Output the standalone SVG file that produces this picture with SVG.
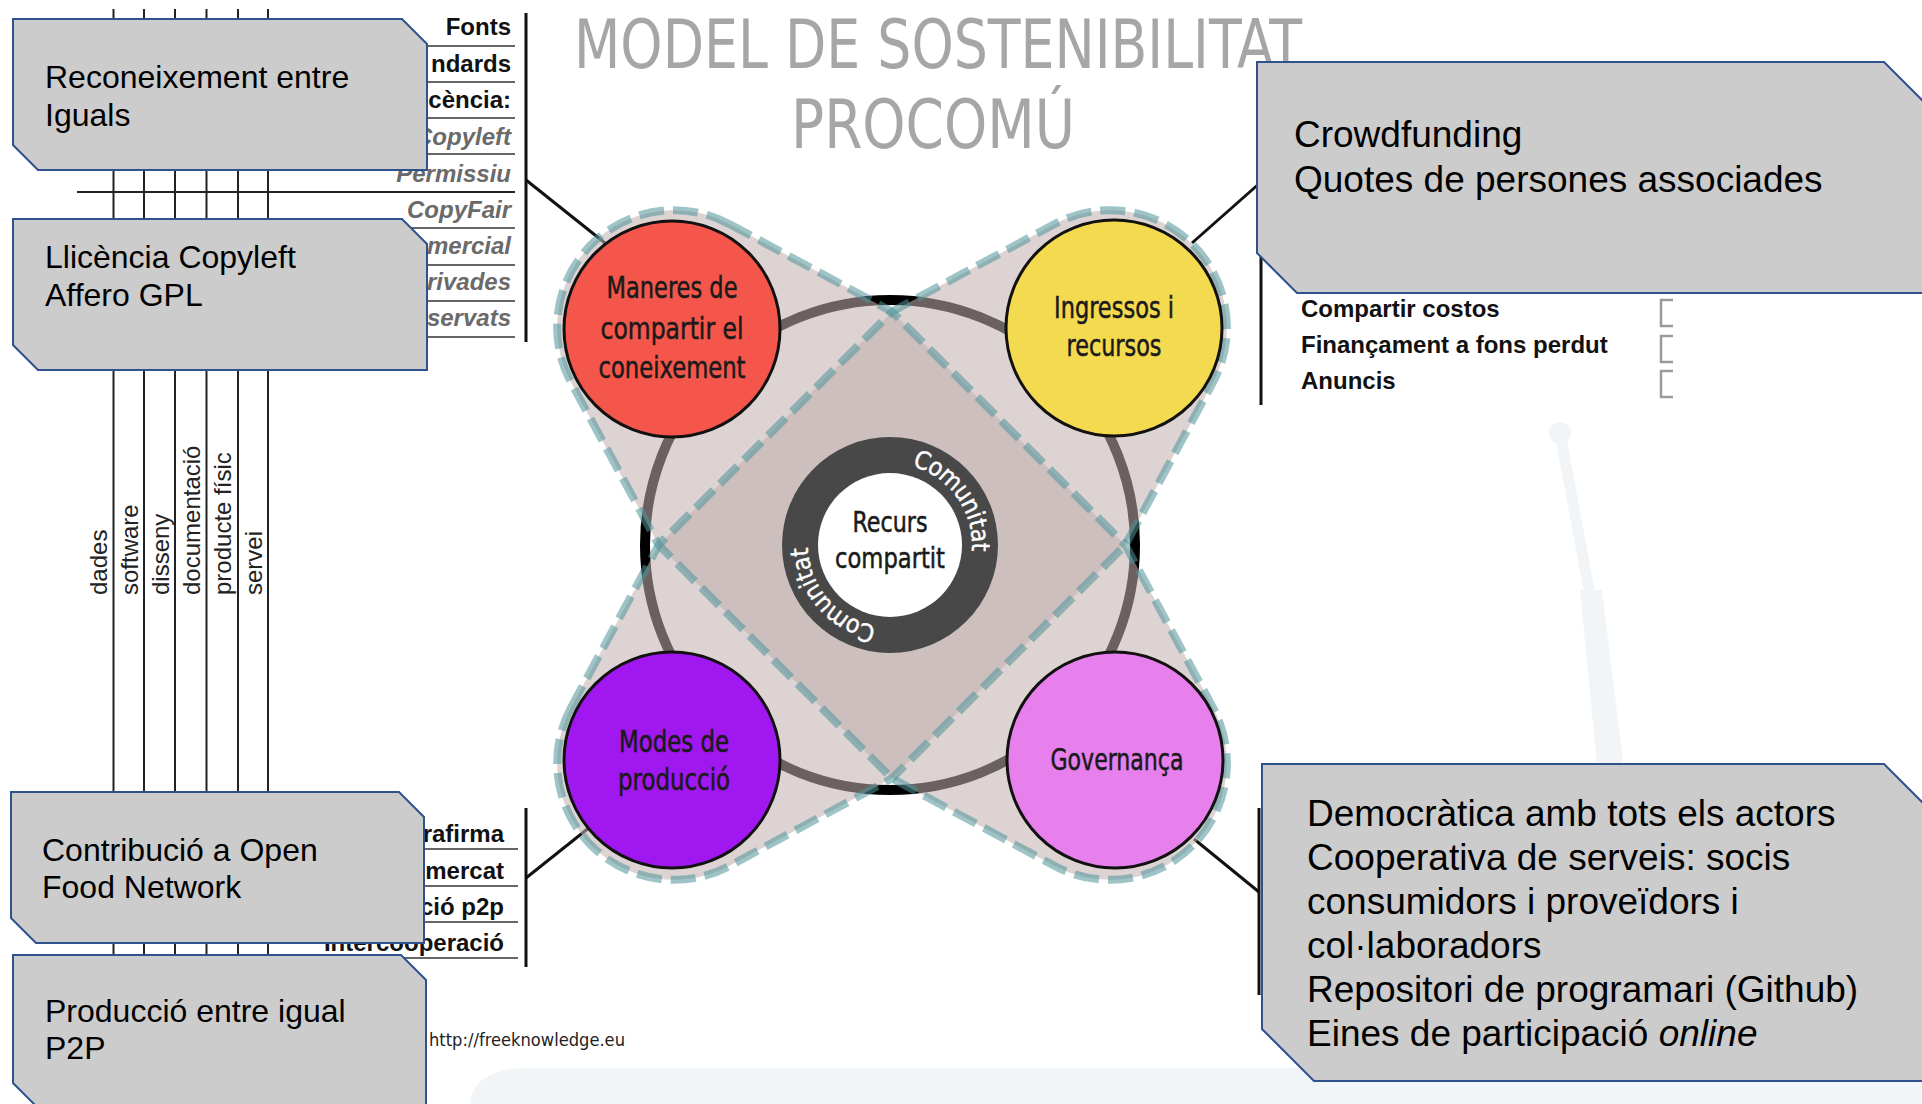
<svg xmlns="http://www.w3.org/2000/svg" width="1922" height="1104" viewBox="0 0 1922 1104">
<style>
.box{fill:#cccccc;stroke:#2f528f;stroke-width:2}
.bt{font-family:"Liberation Sans",Arial,sans-serif;font-size:32px;fill:#000}
.rt{font-family:"Liberation Sans",Arial,sans-serif;font-size:37px;fill:#000}
.lb{font-family:"Liberation Sans",Arial,sans-serif;font-size:24px;font-weight:bold;fill:#111}
.li{font-family:"Liberation Sans",Arial,sans-serif;font-size:24px;font-weight:bold;font-style:italic;fill:#6a6a6a}
.vt{font-family:"Liberation Sans",Arial,sans-serif;font-size:24px;fill:#222}
.ln{stroke:#222;stroke-width:2;fill:none}
.thin{stroke:#333;stroke-width:1.6;fill:none}
.bar{stroke:#111;stroke-width:3;fill:none}
.cn{stroke:#111;stroke-width:3;fill:none}
.ub{font-family:"DejaVu Sans Condensed","DejaVu Sans",sans-serif;font-stretch:condensed}
.cl{font-size:30px;fill:#1a1a1a;stroke:#1a1a1a;stroke-width:0.5;text-anchor:middle}
.leaf{fill:#c2b0b0;fill-opacity:0.553}
.dash{fill:none;stroke:#4f9499;stroke-opacity:0.55;stroke-width:8;stroke-dasharray:25 9}
.node{stroke:#111;stroke-width:3}
.chk{fill:none;stroke:#9a9a9a;stroke-width:2.5}
.wm{fill:#f1f5f7}
.com{font-size:25px;fill:#ffffff;stroke:#ffffff;stroke-width:0.4;text-anchor:middle}
</style>
<defs>
<path id="leafShape" d="M-341.6,-112.1 A117,117 0 0 0 -341.6,112.1 L-165,165 L165,165 L341.6,112.1 A117,117 0 0 0 341.6,-112.1 L165,-165 L-165,-165 Z"/>
</defs>

<rect width="1922" height="1104" fill="#ffffff"/>

<g id="watermark">
<path class="wm" d="M470,1104 Q472,1072 520,1068 H1922 V1104 Z"/>
<circle class="wm" cx="1560" cy="433" r="11"/>
<line x1="1560" y1="433" x2="1590" y2="595" stroke="#f1f5f7" stroke-width="11" stroke-linecap="round"/>
<polygon class="wm" points="1580,590 1602,590 1665,1104 1630,1104"/>
</g>

<g id="title" class="ub" fill="#a6a6a6" text-anchor="middle">
<text x="938" y="68" font-size="68" textLength="728" lengthAdjust="spacingAndGlyphs">MODEL DE SOSTENIBILITAT</text>
<text x="933" y="148" font-size="68" textLength="284" lengthAdjust="spacingAndGlyphs">PROCOMÚ</text>
</g>

<g id="knowledge-grid">
<line class="ln" x1="113.5" y1="9" x2="113.5" y2="1000"/>
<line class="ln" x1="144" y1="9" x2="144" y2="1000"/>
<line class="ln" x1="175" y1="9" x2="175" y2="1000"/>
<line class="ln" x1="206.5" y1="9" x2="206.5" y2="1000"/>
<line class="ln" x1="238" y1="9" x2="238" y2="1000"/>
<line class="ln" x1="268" y1="9" x2="268" y2="1000"/>
<line class="ln" x1="77" y1="192" x2="515" y2="192"/>
<text class="vt" transform="translate(107,595) rotate(-90)">dades</text>
<text class="vt" transform="translate(137.5,595) rotate(-90)">software</text>
<text class="vt" transform="translate(168.5,595) rotate(-90)">disseny</text>
<text class="vt" transform="translate(200,595) rotate(-90)">documentació</text>
<text class="vt" transform="translate(231,595) rotate(-90)">producte físic</text>
<text class="vt" transform="translate(261.5,595) rotate(-90)">servei</text>
</g>

<g id="licence-list">
<line class="thin" x1="400" y1="46" x2="515" y2="46"/>
<line class="thin" x1="400" y1="82" x2="515" y2="82"/>
<line class="thin" x1="400" y1="118" x2="515" y2="118"/>
<line class="thin" x1="400" y1="154" x2="515" y2="154"/>
<line class="thin" x1="400" y1="228" x2="515" y2="228"/>
<line class="thin" x1="400" y1="265" x2="515" y2="265"/>
<line class="thin" x1="400" y1="301" x2="515" y2="301"/>
<line class="thin" x1="400" y1="337" x2="515" y2="337"/>
<line class="bar" x1="526" y1="13" x2="526" y2="342"/>
<g text-anchor="end">
<text class="lb" x="511" y="35">Fonts</text>
<text class="lb" x="511" y="72">ndards</text>
<text class="lb" x="511" y="108">cència:</text>
<text class="li" x="511" y="145">Copyleft</text>
<text class="li" x="511" y="182">Permissiu</text>
<text class="li" x="511" y="218">CopyFair</text>
<text class="li" x="511" y="254">mercial</text>
<text class="li" x="511" y="290">rivades</text>
<text class="li" x="511" y="326">servats</text>
</g>
</g>

<g id="production-list">
<line class="thin" x1="400" y1="849" x2="518" y2="849"/>
<line class="thin" x1="400" y1="886" x2="518" y2="886"/>
<line class="thin" x1="400" y1="922" x2="518" y2="922"/>
<line class="thin" x1="300" y1="958" x2="518" y2="958"/>
<line class="bar" x1="526" y1="808" x2="526" y2="967"/>
<g text-anchor="end">
<text class="lb" x="504" y="842">rafirma</text>
<text class="lb" x="504" y="879">mercat</text>
<text class="lb" x="504" y="915">ció p2p</text>
<text class="lb" x="504" y="951">Intercooperació</text>
</g>
</g>

<g id="income-list">
<line class="bar" x1="1261" y1="160" x2="1261" y2="405"/>
<text class="lb" x="1301" y="317">Compartir costos</text>
<text class="lb" x="1301" y="353">Finançament a fons perdut</text>
<text class="lb" x="1301" y="389">Anuncis</text>
<path class="chk" d="M1673,300 H1661 V326 H1673"/>
<path class="chk" d="M1673,336 H1661 V362 H1673"/>
<path class="chk" d="M1673,371 H1661 V397 H1673"/>
</g>

<g id="governance-list">
<line class="bar" x1="1259" y1="808" x2="1259" y2="995"/>
</g>

<g id="connectors">
<line class="cn" x1="526" y1="180" x2="605" y2="243"/>
<line class="cn" x1="1261" y1="182" x2="1192" y2="243"/>
<line class="cn" x1="526" y1="878" x2="590" y2="827"/>
<line class="cn" x1="1259" y1="892" x2="1194" y2="839"/>
</g>

<g id="model">
<circle cx="890" cy="545" r="245" fill="none" stroke="#000" stroke-width="10"/>
<use href="#leafShape" class="leaf" transform="translate(892,545) rotate(45)"/>
<use href="#leafShape" class="leaf" transform="translate(892,545) rotate(-45)"/>
<use href="#leafShape" class="dash" transform="translate(892,545) rotate(45)"/>
<use href="#leafShape" class="dash" transform="translate(892,545) rotate(-45)"/>
</g>

<g id="node-coneixement">
<circle class="node" cx="672" cy="329" r="108" fill="#f5564b"/>
<g class="ub cl">
<text x="672" y="298" textLength="131" lengthAdjust="spacingAndGlyphs">Maneres de</text>
<text x="672" y="339" textLength="143" lengthAdjust="spacingAndGlyphs">compartir el</text>
<text x="672" y="378" textLength="147" lengthAdjust="spacingAndGlyphs">coneixement</text>
</g>
</g>

<g id="node-ingressos">
<circle class="node" cx="1114" cy="328" r="108" fill="#f4da4f"/>
<g class="ub cl">
<text x="1114" y="318" textLength="120" lengthAdjust="spacingAndGlyphs">Ingressos i</text>
<text x="1114" y="356" textLength="95" lengthAdjust="spacingAndGlyphs">recursos</text>
</g>
</g>

<g id="node-produccio">
<circle class="node" cx="672" cy="760" r="108" fill="#a117ef"/>
<g class="ub cl">
<text x="674" y="752" textLength="110" lengthAdjust="spacingAndGlyphs">Modes de</text>
<text x="674" y="790" textLength="112" lengthAdjust="spacingAndGlyphs">producció</text>
</g>
</g>

<g id="node-governanca">
<circle class="node" cx="1115" cy="760" r="108" fill="#e77fed"/>
<g class="ub cl">
<text x="1117" y="770" textLength="133" lengthAdjust="spacingAndGlyphs">Governança</text>
</g>
</g>

<g id="node-recurs">
<circle cx="890" cy="545" r="108" fill="#484848"/>
<circle cx="890" cy="545" r="72" fill="#ffffff"/>
<g class="ub com">
<text transform="translate(919.45,468.47) rotate(21.05)">C</text>
<text transform="translate(932.03,474.59) rotate(30.8)">o</text>
<text transform="translate(945.43,484.57) rotate(42.54)">m</text>
<text transform="translate(956.77,497.41) rotate(54.52)">u</text>
<text transform="translate(963.73,509.10) rotate(64.04)">n</text>
<text transform="translate(967.52,518.28) rotate(70.98)">i</text>
<text transform="translate(969.63,525.41) rotate(76.18)">t</text>
<text transform="translate(971.52,536.13) rotate(83.79)">a</text>
<text transform="translate(971.98,547.02) rotate(91.41)">t</text>
<text transform="translate(868.70,624.19) rotate(195.05)">C</text>
<text transform="translate(855.60,619.44) rotate(204.8)">o</text>
<text transform="translate(841.18,610.88) rotate(216.54)">m</text>
<text transform="translate(828.55,599.30) rotate(228.52)">u</text>
<text transform="translate(820.43,588.40) rotate(238.04)">n</text>
<text transform="translate(815.69,579.68) rotate(244.98)">i</text>
<text transform="translate(812.85,572.81) rotate(250.18)">t</text>
<text transform="translate(809.85,562.34) rotate(257.79)">a</text>
<text transform="translate(808.26,551.56) rotate(265.41)">t</text>
</g>
<g class="ub cl">
<text x="890" y="532" font-size="28" textLength="75" lengthAdjust="spacingAndGlyphs">Recurs</text>
<text x="890" y="568" font-size="28" textLength="110" lengthAdjust="spacingAndGlyphs">compartit</text>
</g>
</g>

<text class="ub" x="429" y="1046" font-size="17" fill="#222" textLength="196" lengthAdjust="spacingAndGlyphs">http://freeknowledge.eu</text>

<g id="box-reconeixement">
<polygon class="box" points="13,19 402,19 427,44 427,170 38,170 13,145"/>
<text class="bt" x="45" y="88">Reconeixement entre</text>
<text class="bt" x="45" y="126">Iguals</text>
</g>

<g id="box-llicencia">
<polygon class="box" points="13,219 402,219 427,244 427,370 38,370 13,345"/>
<text class="bt" x="45" y="268">Llicència Copyleft</text>
<text class="bt" x="45" y="306">Affero GPL</text>
</g>

<g id="box-contribucio">
<polygon class="box" points="11,792 399,792 424,817 424,943 36,943 11,918"/>
<text class="bt" x="42" y="861">Contribució a Open</text>
<text class="bt" x="42" y="898">Food Network</text>
</g>

<g id="box-p2p">
<polygon class="box" points="13,955 401,955 426,980 426,1108 38,1108 13,1083"/>
<text class="bt" x="45" y="1022">Producció entre igual</text>
<text class="bt" x="45" y="1059">P2P</text>
</g>

<g id="box-crowdfunding">
<polygon class="box" points="1257,62 1884,62 1924,102 1924,293 1297,293 1257,253"/>
<text class="rt" x="1294" y="147">Crowdfunding</text>
<text class="rt" x="1294" y="192">Quotes de persones associades</text>
</g>

<g id="box-democratica">
<polygon class="box" points="1262,764 1884,764 1936,816 1936,1081 1314,1081 1262,1029"/>
<text class="rt" x="1307" y="826">Democràtica amb tots els actors</text>
<text class="rt" x="1307" y="870">Cooperativa de serveis: socis</text>
<text class="rt" x="1307" y="914">consumidors i proveïdors i</text>
<text class="rt" x="1307" y="958">col·laboradors</text>
<text class="rt" x="1307" y="1002">Repositori de programari (Github)</text>
<text class="rt" x="1307" y="1046">Eines de participació <tspan font-style="italic">online</tspan></text>
</g>
</svg>
